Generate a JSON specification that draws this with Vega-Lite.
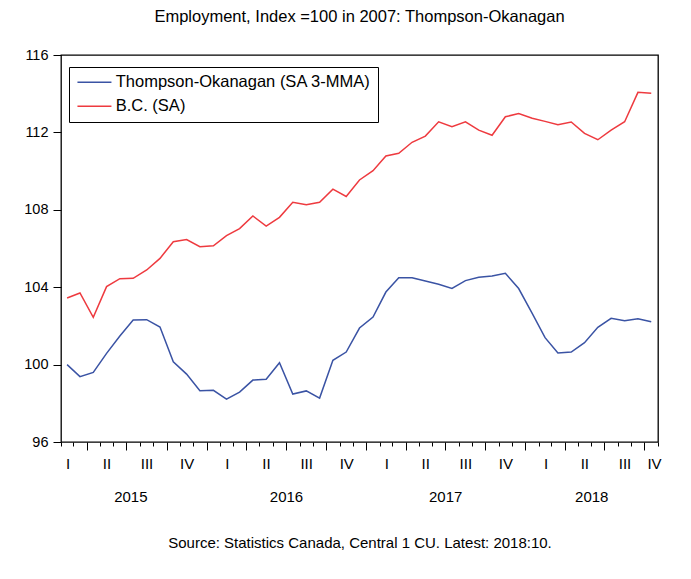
{
  "$schema": "https://vega.github.io/schema/vega-lite/v6.json",
  "width": 597,
  "height": 387,
  "autosize": {"type": "none"},
  "padding": {"left": 61, "top": 55, "right": 33, "bottom": 137},
  "background": "white",
  "config": {
    "font": "Liberation Sans",
    "view": {"stroke": "black", "strokeWidth": 1.3},
    "axis": {"labelColor": "black", "tickColor": "black", "grid": false, "domain": false, "labelFont": "Liberation Sans", "titleFont": "Liberation Sans", "labelOverlap": false}
  },
  "title": {
    "text": "Employment, Index =100 in 2007: Thompson-Okanagan",
    "fontSize": 16.5,
    "fontWeight": "normal",
    "color": "black",
    "anchor": "middle",
    "frame": "group",
    "offset": 22
  },
  "data": {
    "values": [
      {"date": "2015-02-01", "series": "Thompson-Okanagan (SA 3-MMA)", "value": 100.0},
      {"date": "2015-03-01", "series": "Thompson-Okanagan (SA 3-MMA)", "value": 99.38},
      {"date": "2015-04-01", "series": "Thompson-Okanagan (SA 3-MMA)", "value": 99.6},
      {"date": "2015-05-01", "series": "Thompson-Okanagan (SA 3-MMA)", "value": 100.58},
      {"date": "2015-06-01", "series": "Thompson-Okanagan (SA 3-MMA)", "value": 101.48},
      {"date": "2015-07-01", "series": "Thompson-Okanagan (SA 3-MMA)", "value": 102.3},
      {"date": "2015-08-01", "series": "Thompson-Okanagan (SA 3-MMA)", "value": 102.32},
      {"date": "2015-09-01", "series": "Thompson-Okanagan (SA 3-MMA)", "value": 101.94},
      {"date": "2015-10-01", "series": "Thompson-Okanagan (SA 3-MMA)", "value": 100.15},
      {"date": "2015-11-01", "series": "Thompson-Okanagan (SA 3-MMA)", "value": 99.51},
      {"date": "2015-12-01", "series": "Thompson-Okanagan (SA 3-MMA)", "value": 98.65},
      {"date": "2016-01-01", "series": "Thompson-Okanagan (SA 3-MMA)", "value": 98.67},
      {"date": "2016-02-01", "series": "Thompson-Okanagan (SA 3-MMA)", "value": 98.22},
      {"date": "2016-03-01", "series": "Thompson-Okanagan (SA 3-MMA)", "value": 98.58},
      {"date": "2016-04-01", "series": "Thompson-Okanagan (SA 3-MMA)", "value": 99.2},
      {"date": "2016-05-01", "series": "Thompson-Okanagan (SA 3-MMA)", "value": 99.24},
      {"date": "2016-06-01", "series": "Thompson-Okanagan (SA 3-MMA)", "value": 100.1},
      {"date": "2016-07-01", "series": "Thompson-Okanagan (SA 3-MMA)", "value": 98.48},
      {"date": "2016-08-01", "series": "Thompson-Okanagan (SA 3-MMA)", "value": 98.64},
      {"date": "2016-09-01", "series": "Thompson-Okanagan (SA 3-MMA)", "value": 98.27},
      {"date": "2016-10-01", "series": "Thompson-Okanagan (SA 3-MMA)", "value": 100.22},
      {"date": "2016-11-01", "series": "Thompson-Okanagan (SA 3-MMA)", "value": 100.65},
      {"date": "2016-12-01", "series": "Thompson-Okanagan (SA 3-MMA)", "value": 101.89},
      {"date": "2017-01-01", "series": "Thompson-Okanagan (SA 3-MMA)", "value": 102.46},
      {"date": "2017-02-01", "series": "Thompson-Okanagan (SA 3-MMA)", "value": 103.75},
      {"date": "2017-03-01", "series": "Thompson-Okanagan (SA 3-MMA)", "value": 104.49},
      {"date": "2017-04-01", "series": "Thompson-Okanagan (SA 3-MMA)", "value": 104.49},
      {"date": "2017-05-01", "series": "Thompson-Okanagan (SA 3-MMA)", "value": 104.32},
      {"date": "2017-06-01", "series": "Thompson-Okanagan (SA 3-MMA)", "value": 104.15},
      {"date": "2017-07-01", "series": "Thompson-Okanagan (SA 3-MMA)", "value": 103.94},
      {"date": "2017-08-01", "series": "Thompson-Okanagan (SA 3-MMA)", "value": 104.34},
      {"date": "2017-09-01", "series": "Thompson-Okanagan (SA 3-MMA)", "value": 104.51},
      {"date": "2017-10-01", "series": "Thompson-Okanagan (SA 3-MMA)", "value": 104.58},
      {"date": "2017-11-01", "series": "Thompson-Okanagan (SA 3-MMA)", "value": 104.72},
      {"date": "2017-12-01", "series": "Thompson-Okanagan (SA 3-MMA)", "value": 103.93},
      {"date": "2018-01-01", "series": "Thompson-Okanagan (SA 3-MMA)", "value": 102.65},
      {"date": "2018-02-01", "series": "Thompson-Okanagan (SA 3-MMA)", "value": 101.39},
      {"date": "2018-03-01", "series": "Thompson-Okanagan (SA 3-MMA)", "value": 100.6},
      {"date": "2018-04-01", "series": "Thompson-Okanagan (SA 3-MMA)", "value": 100.65},
      {"date": "2018-05-01", "series": "Thompson-Okanagan (SA 3-MMA)", "value": 101.13},
      {"date": "2018-06-01", "series": "Thompson-Okanagan (SA 3-MMA)", "value": 101.93},
      {"date": "2018-07-01", "series": "Thompson-Okanagan (SA 3-MMA)", "value": 102.39},
      {"date": "2018-08-01", "series": "Thompson-Okanagan (SA 3-MMA)", "value": 102.27},
      {"date": "2018-09-01", "series": "Thompson-Okanagan (SA 3-MMA)", "value": 102.37},
      {"date": "2018-10-01", "series": "Thompson-Okanagan (SA 3-MMA)", "value": 102.22},
      {"date": "2015-02-01", "series": "B.C. (SA)", "value": 103.44},
      {"date": "2015-03-01", "series": "B.C. (SA)", "value": 103.7},
      {"date": "2015-04-01", "series": "B.C. (SA)", "value": 102.44},
      {"date": "2015-05-01", "series": "B.C. (SA)", "value": 104.03},
      {"date": "2015-06-01", "series": "B.C. (SA)", "value": 104.44},
      {"date": "2015-07-01", "series": "B.C. (SA)", "value": 104.46},
      {"date": "2015-08-01", "series": "B.C. (SA)", "value": 104.89},
      {"date": "2015-09-01", "series": "B.C. (SA)", "value": 105.49},
      {"date": "2015-10-01", "series": "B.C. (SA)", "value": 106.35},
      {"date": "2015-11-01", "series": "B.C. (SA)", "value": 106.46},
      {"date": "2015-12-01", "series": "B.C. (SA)", "value": 106.09},
      {"date": "2016-01-01", "series": "B.C. (SA)", "value": 106.14},
      {"date": "2016-02-01", "series": "B.C. (SA)", "value": 106.67},
      {"date": "2016-03-01", "series": "B.C. (SA)", "value": 107.03},
      {"date": "2016-04-01", "series": "B.C. (SA)", "value": 107.68},
      {"date": "2016-05-01", "series": "B.C. (SA)", "value": 107.16},
      {"date": "2016-06-01", "series": "B.C. (SA)", "value": 107.61},
      {"date": "2016-07-01", "series": "B.C. (SA)", "value": 108.39},
      {"date": "2016-08-01", "series": "B.C. (SA)", "value": 108.26},
      {"date": "2016-09-01", "series": "B.C. (SA)", "value": 108.39},
      {"date": "2016-10-01", "series": "B.C. (SA)", "value": 109.07},
      {"date": "2016-11-01", "series": "B.C. (SA)", "value": 108.69},
      {"date": "2016-12-01", "series": "B.C. (SA)", "value": 109.54},
      {"date": "2017-01-01", "series": "B.C. (SA)", "value": 110.02},
      {"date": "2017-02-01", "series": "B.C. (SA)", "value": 110.78},
      {"date": "2017-03-01", "series": "B.C. (SA)", "value": 110.92},
      {"date": "2017-04-01", "series": "B.C. (SA)", "value": 111.49},
      {"date": "2017-05-01", "series": "B.C. (SA)", "value": 111.81},
      {"date": "2017-06-01", "series": "B.C. (SA)", "value": 112.55},
      {"date": "2017-07-01", "series": "B.C. (SA)", "value": 112.3},
      {"date": "2017-08-01", "series": "B.C. (SA)", "value": 112.55},
      {"date": "2017-09-01", "series": "B.C. (SA)", "value": 112.12},
      {"date": "2017-10-01", "series": "B.C. (SA)", "value": 111.85},
      {"date": "2017-11-01", "series": "B.C. (SA)", "value": 112.81},
      {"date": "2017-12-01", "series": "B.C. (SA)", "value": 112.97},
      {"date": "2018-01-01", "series": "B.C. (SA)", "value": 112.73},
      {"date": "2018-02-01", "series": "B.C. (SA)", "value": 112.57},
      {"date": "2018-03-01", "series": "B.C. (SA)", "value": 112.4},
      {"date": "2018-04-01", "series": "B.C. (SA)", "value": 112.54},
      {"date": "2018-05-01", "series": "B.C. (SA)", "value": 111.95},
      {"date": "2018-06-01", "series": "B.C. (SA)", "value": 111.62},
      {"date": "2018-07-01", "series": "B.C. (SA)", "value": 112.12},
      {"date": "2018-08-01", "series": "B.C. (SA)", "value": 112.55},
      {"date": "2018-09-01", "series": "B.C. (SA)", "value": 114.07},
      {"date": "2018-10-01", "series": "B.C. (SA)", "value": 114.02}
    ]
  },
  "resolve": {"axis": {"x": "independent"}},
  "layer": [
    {
      "transform": [{"filter": "datum.series === 'Thompson-Okanagan (SA 3-MMA)'"}],
      "mark": {"type": "line", "strokeWidth": 1.5},
      "encoding": {
        "x": {
          "field": "date",
          "type": "temporal",
          "timeUnit": "utcyearmonth",
          "bandPosition": 0.5,
          "scale": {"type": "utc", "domain": [{"year": 2015, "month": 2, "date": 1, "utc": true}, {"year": 2018, "month": 11, "date": 1, "utc": true}], "nice": false},
          "axis": {
            "orient": "bottom",
            "title": null,
            "tickCount": {"interval": "month", "step": 1},
            "tickSize": {"condition": {"test": "utcmonth(datum.value) % 3 === 0", "value": 8}, "value": 4},
            "tickWidth": 1,
            "labelExpr": "utcmonth(datum.value) === 1 ? 'I' : utcmonth(datum.value) === 4 ? 'II' : utcmonth(datum.value) === 7 ? 'III' : utcmonth(datum.value) === 10 ? 'IV' : ''",
            "labelOffset": {"condition": {"test": "utcyear(datum.value) === 2018 && utcmonth(datum.value) === 10", "value": -4}, "value": 6.6},
            "labelPadding": 10,
            "labelFontSize": 15,
            "labelFlush": false,
            "labelOverlap": false,
            "labelBound": false
          }
        },
        "y": {
          "field": "value",
          "type": "quantitative",
          "scale": {"domain": [96, 116], "nice": false, "zero": false},
          "axis": {"values": [96, 100, 104, 108, 112, 116], "title": null, "tickSize": 8, "labelPadding": 5, "labelFontSize": 14.5}
        },
        "color": {
          "field": "series",
          "type": "nominal",
          "scale": {"domain": ["Thompson-Okanagan (SA 3-MMA)", "B.C. (SA)"], "range": ["#3a53a4", "#ee3a3f"]},
          "legend": {
            "title": null,
            "orient": "none",
            "legendX": 8,
            "legendY": 12,
            "symbolType": "M-2.5,0H2.5",
            "symbolSize": 185,
            "symbolOffset": 10.2,
            "symbolStrokeWidth": 1.5,
            "labelFontSize": 16.5,
            "labelColor": "black",
            "labelOffset": 13,
            "labelLimit": 400,
            "strokeColor": "black",
            "fillColor": "white",
            "padding": 7,
            "rowPadding": 7
          }
        }
      }
    },
    {
      "transform": [{"filter": "datum.series === 'B.C. (SA)'"}],
      "mark": {"type": "line", "strokeWidth": 1.5},
      "encoding": {
        "x": {
          "field": "date",
          "type": "temporal",
          "timeUnit": "utcyearmonth",
          "bandPosition": 0.5,
          "axis": {
            "orient": "bottom",
            "values": [
              {"year": 2015, "month": 7, "date": 10, "utc": true},
              {"year": 2016, "month": 7, "date": 1, "utc": true},
              {"year": 2017, "month": 7, "date": 1, "utc": true},
              {"year": 2018, "month": 6, "date": 1, "utc": true}
            ],
            "labelExpr": "utcyear(datum.value)",
            "ticks": false,
            "labelPadding": 47,
            "labelFontSize": 15,
            "labelFlush": false,
            "labelOverlap": false,
            "title": "Source: Statistics Canada, Central 1 CU. Latest: 2018:10.",
            "titleFontSize": 15,
            "titleFontWeight": "normal",
            "titleColor": "black",
            "titlePadding": 31
          }
        },
        "y": {"field": "value", "type": "quantitative"},
        "color": {
          "field": "series",
          "type": "nominal",
          "legend": {
            "title": null,
            "orient": "none",
            "legendX": 8,
            "legendY": 12,
            "symbolType": "M-2.5,0H2.5",
            "symbolSize": 185,
            "symbolOffset": 10.2,
            "symbolStrokeWidth": 1.5,
            "labelFontSize": 16.5,
            "labelColor": "black",
            "labelOffset": 13,
            "labelLimit": 400,
            "strokeColor": "black",
            "fillColor": "white",
            "padding": 7,
            "rowPadding": 7
          }
        }
      }
    }
  ]
}
